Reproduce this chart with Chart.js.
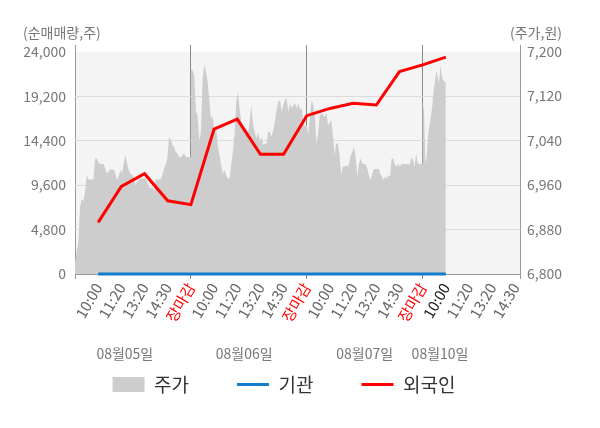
<!DOCTYPE html>
<html>
<head>
<meta charset="utf-8">
<script src="https://cdn.jsdelivr.net/npm/chart.js@4.4.0/dist/chart.umd.min.js"></script>
<style>
  html, body { margin: 0; padding: 0; background: #fff; }
  #wrap { width: 600px; height: 428px; }
</style>
</head>
<body>
<div id="wrap"><canvas id="chart"></canvas></div>
<script>
// x축 라벨 (하루 5칸)
const timeLabels = [
  '10:00', '11:20', '13:20', '14:30', '장마감',
  '10:00', '11:20', '13:20', '14:30', '장마감',
  '10:00', '11:20', '13:20', '14:30', '장마감',
  '10:00', '11:20', '13:20', '14:30'
];
const dates = ['08월05일', '08월06일', '08월07일', '08월10일'];
const datePos = [1.15, 6.3, 11.5, 14.75];
const closeAt = [4, 9, 14];
const nowAt = 15;

const countTicks = [0, 4800, 9600, 14400, 19200, 24000];
const priceTicks = [6800, 6880, 6960, 7040, 7120, 7200];

// 순매매량 (주)
const foreign = [5570, 9450, 10830, 7900, 7490, 15640, 16720, 12920, 12920,
  17100, 17880, 18430, 18250, 21860, 22590, 23420];
const institution = [0, 0, 0, 0, 0, 0, 0, 0, 0, 0, 0, 0, 0, 0, 0, 0];

// 주가 (원), 날짜별
const priceDay1 = [
  6820, 6841, 6856, 6920, 6935, 6931, 6949, 6978, 6970, 6970,
  6970, 6970, 7008, 7008, 7000, 6998, 6998, 6998, 6990, 6981,
  6984, 6989, 6987, 6989, 6981, 6969, 6975, 6987, 6981, 6999,
  7014, 6999, 6987, 6981, 6978, 6975, 6960, 6966, 6970, 6972,
  6972, 6972, 6972, 6966, 6957, 6954, 6957, 6949, 6970, 6970,
  6970, 6970, 6978, 6990, 6996, 7008, 7047, 7041, 7032, 7029,
  7020, 7017, 7011, 7010, 7014, 7017, 7011, 7010, 7010, 7010
];
const priceDay2 = [
  7167, 7167, 7158, 7092, 7086, 7040, 7056, 7152, 7176, 7164,
  7146, 7110, 7080, 7083, 7056, 7062, 7032, 7014, 6996, 6981,
  6987, 6978, 6972, 6972, 6996, 7020, 7050, 7110, 7128, 7098,
  7074, 7068, 7062, 7062, 7053, 7074, 7104, 7068, 7056, 7044,
  7056, 7038, 7047, 7032, 7035, 7032, 7056, 7056, 7047, 7059,
  7074, 7095, 7110, 7113, 7092, 7104, 7113, 7116, 7092, 7107,
  7098, 7104, 7107, 7098, 7107, 7095, 7098, 7074, 7065, 7068
];
const priceDay3 = [
  7068, 7050, 7086, 7113, 7104, 7083, 7032, 7056, 7086, 7089,
  7086, 7083, 7089, 7068, 7071, 7077, 7050, 7014, 7035, 7035,
  7017, 6978, 6993, 6993, 6996, 6993, 6999, 7014, 7020, 7029,
  7008, 6975, 6999, 7008, 6999, 6998, 6998, 6990, 6978, 6969,
  6978, 6989, 6989, 6989, 6989, 6981, 6975, 6969, 6975, 6972,
  6978, 6975, 7008, 7008, 6996, 6993, 6999, 6993, 6998, 6998,
  6998, 6998, 6998, 6996, 7008, 7008, 6993, 7017, 6999, 6998,
  6998, 6998
];
const priceDay4 = [
  7108, 7092, 6999, 7014, 7050, 7068, 7083, 7101, 7128, 7146,
  7167, 7155, 7143, 7176, 7158, 7149, 7146, 7146
];

// 날짜별 구간: 시작 위치, 길이 (라벨 칸 단위)
const priceDays = [
  { values: priceDay1, start: -1, span: 5 },
  { values: priceDay2, start: 4, span: 5 },
  { values: priceDay3, start: 9, span: 5 },
  { values: priceDay4, start: 14, span: 1 }
];

const pricePoints = [];
priceDays.forEach(d => {
  d.values.forEach((v, k) => {
    pricePoints.push({ x: d.start + d.span * k / (d.values.length - 1), y: v });
  });
});

const FONT = '"Noto Sans CJK KR", "Noto Sans", sans-serif';
Chart.defaults.font.family = FONT;
Chart.defaults.color = '#777';

const plotBg = {
  id: 'plotBg',
  beforeDraw(chart) {
    const { ctx, chartArea, scales } = chart;
    const top = scales.y.getPixelForValue(24000);
    ctx.save();
    ctx.fillStyle = '#f4f4f4';
    ctx.fillRect(chartArea.left, top, chartArea.right - chartArea.left, chartArea.bottom - top);
    ctx.restore();
  }
};

const extraText = {
  id: 'extraText',
  afterDraw(chart) {
    const { ctx, chartArea, scales } = chart;
    ctx.save();
    ctx.font = '14px ' + FONT;
    ctx.fillStyle = '#777';
    ctx.textBaseline = 'middle';
    ctx.textAlign = 'left';
    ctx.fillText('(순매매량,주)', chartArea.left - 52, 33);
    ctx.textAlign = 'right';
    ctx.fillText('(주가,원)', chartArea.right + 42, 33);
    // 날짜
    ctx.textAlign = 'center';
    dates.forEach((d, i) => {
      ctx.fillText(d, scales.x.getPixelForValue(datePos[i]), chartArea.bottom + 80);
    });
    ctx.restore();
  }
};

new Chart(document.getElementById('chart'), {
  type: 'line',
  data: {
    datasets: [
      {
        label: '주가',
        data: pricePoints,
        yAxisID: 'y1',
        borderWidth: 0,
        borderColor: 'rgba(0,0,0,0)',
        backgroundColor: '#cdcdcd',
        fill: 'start',
        pointRadius: 0,
        order: 3
      },
      {
        label: '기관',
        data: institution.map((v, i) => ({ x: i, y: v })),
        yAxisID: 'y',
        borderColor: '#117dcc',
        borderWidth: 3,
        pointRadius: 0,
        fill: false,
        clip: 3,
        order: 2
      },
      {
        label: '외국인',
        data: foreign.map((v, i) => ({ x: i, y: v })),
        yAxisID: 'y',
        borderColor: '#ff0000',
        borderWidth: 3,
        pointRadius: 0,
        fill: false,
        clip: 3,
        order: 1
      }
    ]
  },
  options: {
    responsive: true,
    maintainAspectRatio: false,
    animation: false,
    events: [],
    layout: { padding: { top: 45, left: 0, right: 32, bottom: 24 } },
    scales: {
      x: {
        type: 'linear',
        position: 'bottom',
        min: -1,
        max: 18.2,
        z: 1,
        afterBuildTicks: s => {
          s.ticks = [-1, ...timeLabels.map((_, i) => i), 18.2].map(v => ({ value: v }));
        },
        afterFit: s => { s.height = 53; },
        grid: {
          color: c => {
            const v = c.tick ? c.tick.value : null;
            if (closeAt.includes(v)) return '#8a8a8a';
            if (v === -1 || v === 18.2) return '#9a9a9a';
            return 'rgba(0,0,0,0)';
          },
          tickLength: 5
        },
        border: { display: false },
        ticks: {
          autoSkip: false,
          minRotation: 60,
          maxRotation: 60,
          padding: 1,
          font: { size: 15 },
          color: c => {
            const v = c.tick.value;
            if (timeLabels[v] === '장마감') return '#ff0000';
            if (v === nowAt) return '#222';
            return '#666';
          },
          callback: v => timeLabels[v] ?? ''
        }
      },
      y: {
        position: 'left',
        min: 0,
        max: 24730,
        z: 1,
        afterBuildTicks: s => { s.ticks = countTicks.map(v => ({ value: v })); },
        afterFit: s => { s.width = 75; },
        grid: {
          color: c => (c.tick.value > 0 && c.tick.value < 24000) ? '#dcdcdc' : 'rgba(0,0,0,0)',
          drawTicks: false
        },
        border: { display: false },
        ticks: { padding: 9, font: { size: 14 }, color: '#777' }
      },
      y1: {
        position: 'right',
        min: 6800,
        max: 7212,
        afterBuildTicks: s => { s.ticks = priceTicks.map(v => ({ value: v })); },
        afterFit: s => { s.width = 48; },
        // 바닥선만 (데이터 아래에 그림)
        grid: {
          color: c => c.tick.value === 6800 ? '#9a9a9a' : 'rgba(0,0,0,0)',
          drawTicks: false
        },
        border: { display: false },
        ticks: { padding: 7, font: { size: 14 }, color: '#777' }
      }
    },
    plugins: {
      tooltip: { enabled: false },
      legend: {
        position: 'bottom',
        labels: {
          usePointStyle: true,
          pointStyleWidth: 32,
          boxHeight: 15,
          padding: 48,
          font: { size: 19 },
          color: '#333',
          sort: (a, b) => a.datasetIndex - b.datasetIndex,
          generateLabels: chart => chart.data.datasets.map((ds, i) => ({
            text: ds.label,
            datasetIndex: i,
            pointStyle: i === 0 ? 'rect' : 'line',
            fillStyle: i === 0 ? ds.backgroundColor : ds.borderColor,
            strokeStyle: i === 0 ? ds.backgroundColor : ds.borderColor,
            lineWidth: i === 0 ? 0 : 3,
            fontColor: '#333'
          }))
        }
      }
    }
  },
  plugins: [plotBg, extraText]
});
</script>
</body>
</html>
